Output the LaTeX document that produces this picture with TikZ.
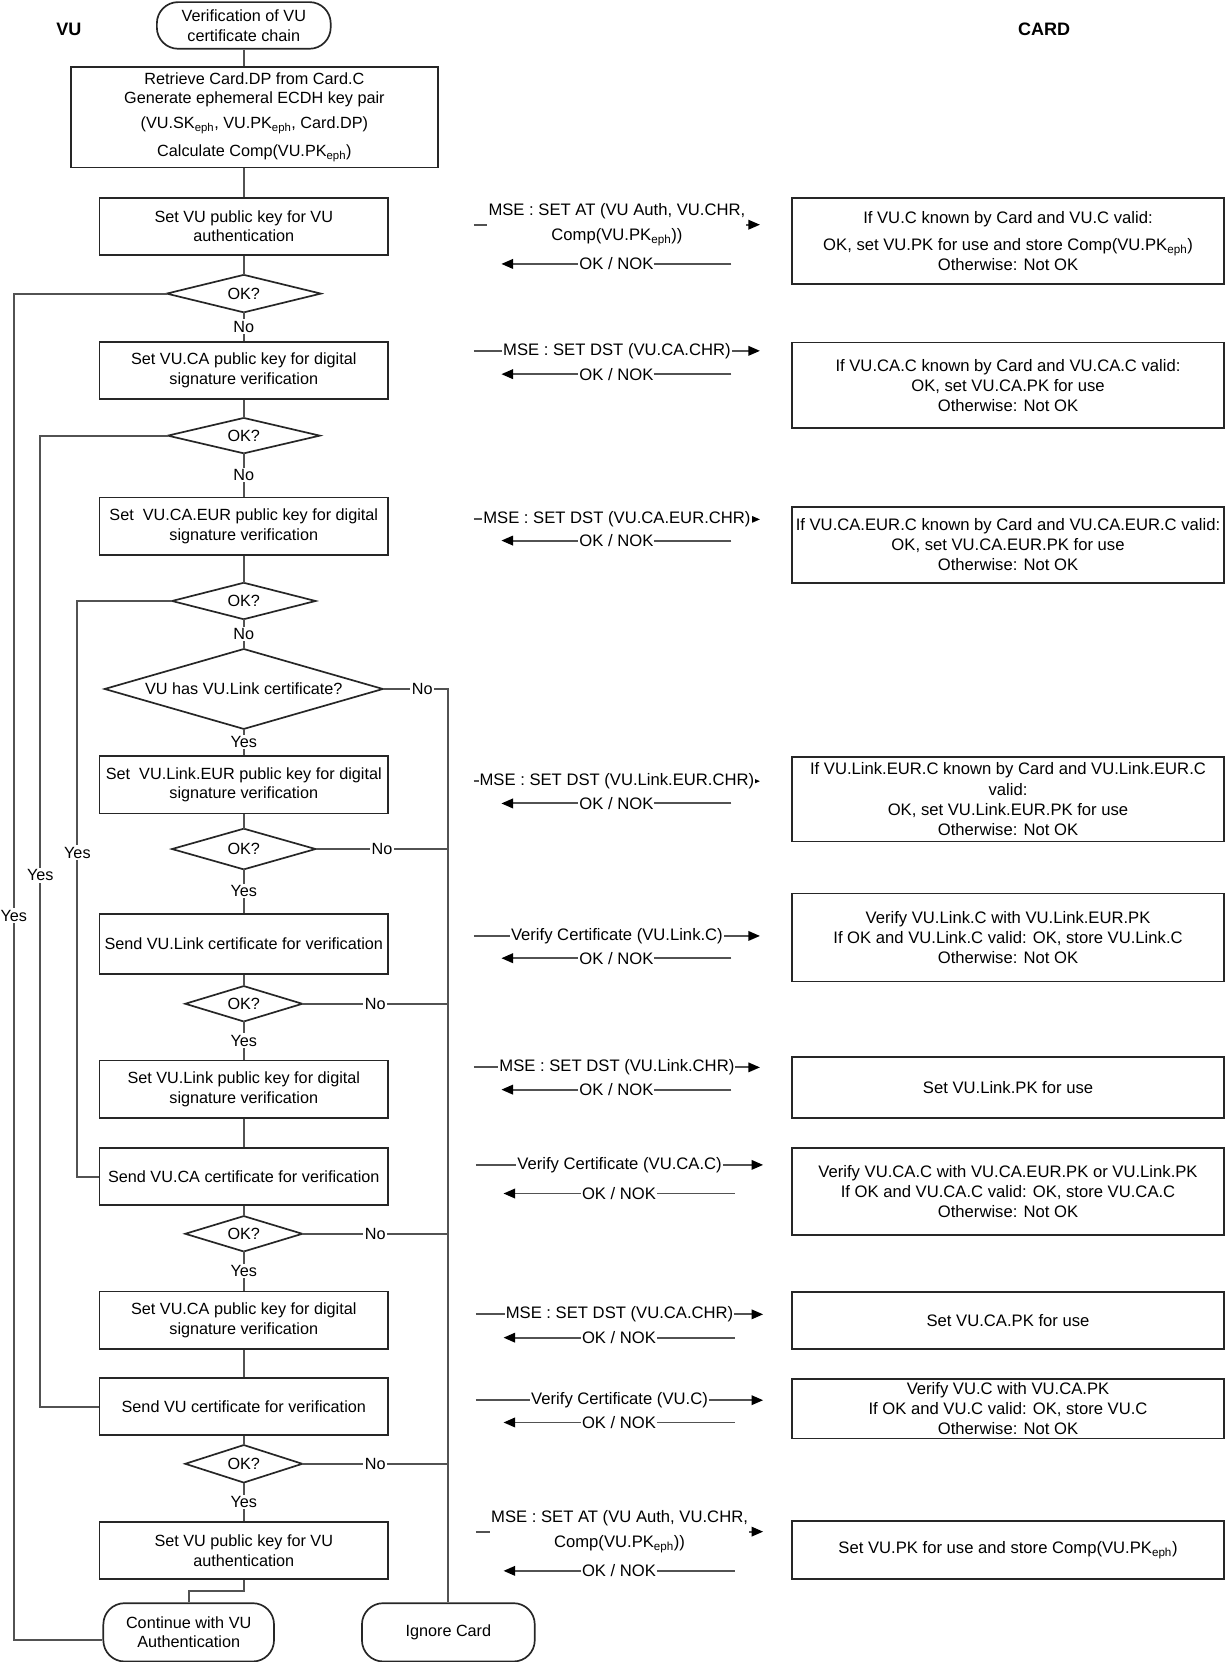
\documentclass[tikz,border=0pt]{standalone}
\usepackage{fontspec}
\setmainfont{Liberation Sans}
\usetikzlibrary{arrows.meta}
\newcommand\eph{\textsubscript{eph}}
\newcommand\diam[1]{\draw[bx] (#1.west) -- (#1.north) -- (#1.east) -- (#1.south) -- cycle;}
\newcommand\msg[6]{%
  \coordinate (#1a) at (#5,#2); \coordinate (#1b) at (#6,#2);
  \draw[arr] (#1a) -- node[mlbl] (#1t) {#3} (#1b);
  \coordinate (#1c) at (#6-27,#4); \coordinate (#1d) at (#5+26,#4);
  \draw[arr] (#1c) -- node[mlbl] (#1r) {OK / NOK} (#1d);}
\begin{document}
\begin{tikzpicture}[x=1pt,y=-1pt,
  ln/.style={draw=black!68, line width=1.8pt},
  bx/.style={draw=black!85, line width=1.6pt},
  vbox/.style={bx, rectangle, minimum width=272pt, minimum height=54pt, align=center, inner sep=2pt, font=\fontsize{15.3}{18.5}\selectfont},
  cbox/.style={bx, rectangle, minimum width=408pt, align=center, inner sep=2pt, font=\fontsize{15.7}{19}\selectfont},
  term/.style={bx, rectangle, rounded corners=20pt, align=center, font=\fontsize{15.3}{18.5}\selectfont},
  dia/.style={rectangle, inner sep=0pt, font=\fontsize{15.3}{18}\selectfont},
  lbl/.style={fill=white, inner sep=1.5pt, font=\fontsize{15.3}{18}\selectfont},
  mlbl/.style={fill=white, inner sep=1pt, align=center, font=\fontsize{15.7}{19}\selectfont},
  hdr/.style={font=\bfseries\fontsize{17}{20}\selectfont},
  arr/.style={ln, -{Triangle[length=11pt,width=9pt,color=black]}},
]
\useasboundingbox (0,0) rectangle (1157,1568);

% headers
\node[hdr] (hvu) at (65,28) {VU};
\node[hdr] (hcard) at (985,28) {CARD};

% VU column
\node[term, minimum width=164pt, minimum height=44pt] (start) at (230,24) {Verification of VU\\certificate chain};
\node[vbox, minimum width=346pt, minimum height=95pt] (b1) at (240,110.5) {Retrieve Card.DP from Card.C\\Generate ephemeral ECDH key pair\\[5pt](VU.SK\eph, VU.PK\eph, Card.DP)\\[8pt]Calculate Comp(VU.PK\eph)};
\node[vbox] (b2) at (230,213.5) {Set VU public key for VU\\authentication};
\node[dia, minimum width=145pt, minimum height=35pt] (d1) at (230,277) {OK?};
\node[vbox] (b3) at (230,349.5) {Set VU.CA public key for digital\\signature verification};
\node[dia, minimum width=143pt, minimum height=33pt] (d2) at (230,411) {OK?};
\node[vbox] (b4) at (230,496.5) {Set\ \ VU.CA.EUR public key for digital\\signature verification};
\node[dia, minimum width=135pt, minimum height=34pt] (d3) at (230,567) {OK?};
\node[dia, minimum width=262pt, minimum height=75pt] (d4) at (230,650) {VU has VU.Link certificate?};
\node[vbox] (b5) at (230,740.5) {Set\ \ VU.Link.EUR public key for digital\\signature verification};
\node[dia, minimum width=135pt, minimum height=38pt] (d5) at (230,801) {OK?};
\node[vbox, minimum height=57pt] (b6) at (230,890.5) {Send VU.Link certificate for verification};
\node[dia, minimum width=110pt, minimum height=33pt] (d6) at (230,947) {OK?};
\node[vbox] (b7) at (230,1027.5) {Set VU.Link public key for digital\\signature verification};
\node[vbox] (b8) at (230,1110) {Send VU.CA certificate for verification};
\node[dia, minimum width=110pt, minimum height=33pt] (d7) at (230,1164) {OK?};
\node[vbox] (b9) at (230,1245.5) {Set VU.CA public key for digital\\signature verification};
\node[vbox] (b10) at (230,1327) {Send VU certificate for verification};
\node[dia, minimum width=110pt, minimum height=35pt] (d8) at (230,1381) {OK?};
\node[vbox] (b11) at (230,1463) {Set VU public key for VU\\authentication};
\node[term, minimum width=161pt, minimum height=55pt] (cont) at (178,1540) {Continue with VU\\Authentication};
\node[term, minimum width=163pt, minimum height=55pt] (ign) at (423,1540) {Ignore Card};

\diam{d1}\diam{d2}\diam{d3}\diam{d4}\diam{d5}\diam{d6}\diam{d7}\diam{d8}

% rails
\coordinate (railA) at (13,0);
\coordinate (railB) at (38,0);
\coordinate (railC) at (73,0);
\coordinate (railR) at (423,0);
\coordinate (contin) at ([yshift=-7pt]cont.west);

% main flow
\draw[ln] (start.south) -- (start.south |- b1.north);
\draw[ln] (b1.south -| b2.north) -- (b2.north);
\draw[ln] (b2.south) -- (d1.north);
\draw[ln] (d1.south) -- node[lbl] (l1) {No} (b3.north);
\draw[ln] (b3.south) -- (d2.north);
\draw[ln] (d2.south) -- node[lbl] (l2) {No} (b4.north);
\draw[ln] (b4.south) -- (d3.north);
\draw[ln] (d3.south) -- node[lbl] (l3) {No} (d4.north);
\draw[ln] (d4.south) -- node[lbl] (l4) {Yes} (b5.north);
\draw[ln] (b5.south) -- (d5.north);
\draw[ln] (d5.south) -- node[lbl] (l5) {Yes} (b6.north);
\draw[ln] (b6.south) -- (d6.north);
\draw[ln] (d6.south) -- node[lbl] (l6) {Yes} (b7.north);
\draw[ln] (b7.south) -- (b8.north);
\draw[ln] (b8.south) -- (d7.north);
\draw[ln] (d7.south) -- node[lbl] (l7) {Yes} (b9.north);
\draw[ln] (b9.south) -- (b10.north);
\draw[ln] (b10.south) -- (d8.north);
\draw[ln] (d8.south) -- node[lbl] (l8) {Yes} (b11.north);
\draw[ln] (b11.south) -- ([yshift=-10pt]b11.south) -| (cont.north);

% left Yes loops
\draw[ln] (d1.west) -- (d1.west -| railA) -- node[lbl, pos=0.462] (ya) {Yes} (railA |- contin) -- (contin);
\draw[ln] (d2.west) -- (d2.west -| railB) -- node[lbl, pos=0.453] (yb) {Yes} (railB |- b10.west) -- (b10.west);
\draw[ln] (d3.west) -- (d3.west -| railC) -- node[lbl, pos=0.437] (yc) {Yes} (railC |- b8.west) -- (b8.west);

% right No lines
\draw[ln] (d4.east) -- node[lbl, pos=0.6] (na) {No} (d4.east -| railR) -- (ign.north);
\draw[ln] (d5.east) -- node[lbl] (nb) {No} (d5.east -| railR);
\draw[ln] (d6.east) -- node[lbl] (nc) {No} (d6.east -| railR);
\draw[ln] (d7.east) -- node[lbl] (nd) {No} (d7.east -| railR);
\draw[ln] (d8.east) -- node[lbl] (ne) {No} (d8.east -| railR);

% card column
\node[cbox, minimum height=81pt] (c1) at (951,227.5) {If VU.C known by Card and VU.C valid:\\[6pt]OK, set VU.PK for use and store Comp(VU.PK\eph)\\Otherwise: Not OK};
\node[cbox, minimum height=81pt] (c2) at (951,363.5) {If VU.CA.C known by Card and VU.CA.C valid:\\OK, set VU.CA.PK for use\\Otherwise: Not OK};
\node[cbox, minimum height=72pt] (c3) at (951,514) {If VU.CA.EUR.C known by Card and VU.CA.EUR.C valid:\\OK, set VU.CA.EUR.PK for use\\Otherwise: Not OK};
\node[cbox, minimum height=80pt] (c4) at (951,754) {If VU.Link.EUR.C known by Card and VU.Link.EUR.C\\valid:\\OK, set VU.Link.EUR.PK for use\\Otherwise: Not OK};
\node[cbox, minimum height=83pt] (c5) at (951,884.5) {Verify VU.Link.C with VU.Link.EUR.PK\\If OK and VU.Link.C valid: OK, store VU.Link.C\\Otherwise: Not OK};
\node[cbox, minimum height=58pt] (c6) at (951,1026) {Set VU.Link.PK for use};
\node[cbox, minimum height=82pt] (c7) at (951,1124) {Verify VU.CA.C with VU.CA.EUR.PK or VU.Link.PK\\If OK and VU.CA.C valid: OK, store VU.CA.C\\Otherwise: Not OK};
\node[cbox, minimum height=54pt] (c8) at (951,1246) {Set VU.CA.PK for use};
\node[cbox, minimum height=56pt, inner sep=0pt] (c9) at (951,1329) {Verify VU.C with VU.CA.PK\\If OK and VU.C valid: OK, store VU.C\\Otherwise: Not OK};
\node[cbox, minimum height=55pt] (c10) at (951,1462.5) {Set VU.PK for use and store Comp(VU.PK\eph)};

% messages
\msg{ma}{212}{MSE : SET AT (VU Auth, VU.CHR,\\[5pt]Comp(VU.PK\eph))}{249}{447}{717}
\msg{mb}{331}{MSE : SET DST (VU.CA.CHR)}{353}{447}{717}
\msg{mc}{490}{MSE : SET DST (VU.CA.EUR.CHR)}{510}{447}{717}
\msg{md}{737}{MSE : SET DST (VU.Link.EUR.CHR)}{758}{447}{717}
\msg{me}{883}{Verify Certificate (VU.Link.C)}{904}{447}{717}
\msg{mf}{1007}{MSE : SET DST (VU.Link.CHR)}{1028}{447}{717}
\msg{mg}{1099}{Verify Certificate (VU.CA.C)}{1126}{449}{720}
\msg{mh}{1240}{MSE : SET DST (VU.CA.CHR)}{1262}{449}{720}
\msg{mi}{1321}{Verify Certificate (VU.C)}{1342}{449}{720}
\msg{mj}{1445}{MSE : SET AT (VU Auth, VU.CHR,\\[5pt]Comp(VU.PK\eph))}{1482}{449}{720}
\end{tikzpicture}
\end{document}
